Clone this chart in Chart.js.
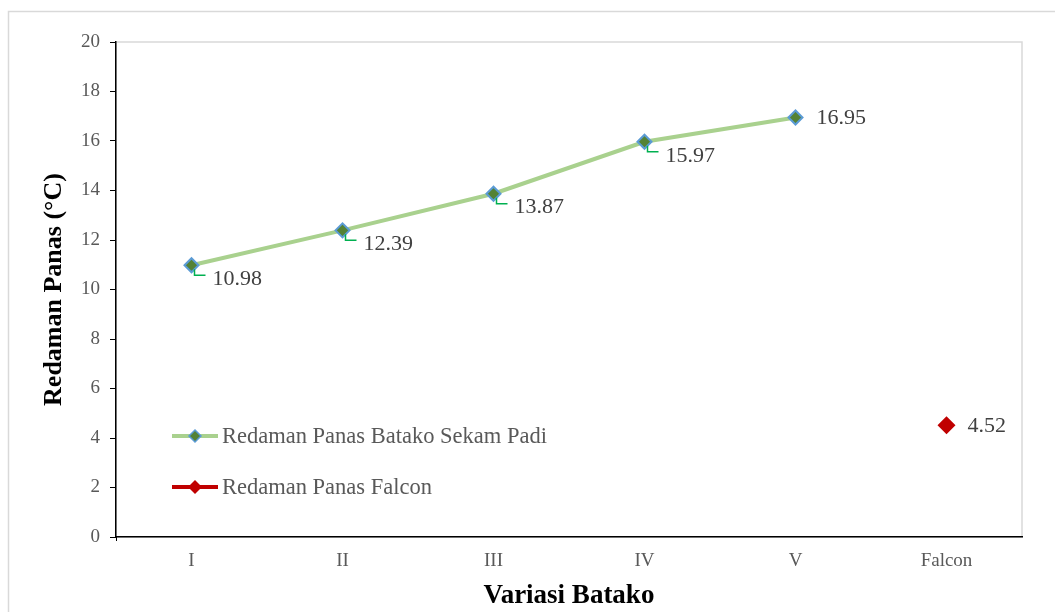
<!DOCTYPE html>
<html>
<head>
<meta charset="utf-8">
<script src="https://cdn.jsdelivr.net/npm/chart.js@4/dist/chart.umd.min.js"></script>
<style>
  html, body { margin: 0; padding: 0; background: #ffffff; }
  #wrap { width: 1055px; height: 612px; position: relative; }
</style>
</head>
<body>
<div id="wrap"><canvas id="c" width="1055" height="612"></canvas></div>
<script>
// ---- data ----
const categories = ['I', 'II', 'III', 'IV', 'V', 'Falcon'];
const batakoValues = [10.98, 12.39, 13.87, 15.97, 16.95, null];
const falconValues = [null, null, null, null, null, 4.52];
const seriesNames = ['Redaman Panas Batako Sekam Padi', 'Redaman Panas Falcon'];
const yTicks = [0, 2, 4, 6, 8, 10, 12, 14, 16, 18, 20];
const xTitle = 'Variasi Batako';
const yTitle = 'Redaman Panas (°C)';

const SERIF = '"Liberation Serif", "Times New Roman", serif';

const framePlugin = {
  id: 'frame',
  beforeDraw(chart) {
    const ctx = chart.ctx, a = chart.chartArea;
    ctx.save();
    ctx.fillStyle = '#ffffff';
    ctx.fillRect(0, 0, chart.width, chart.height);
    ctx.strokeStyle = '#d9d9d9';
    ctx.lineWidth = 1.5;
    ctx.strokeRect(8.5, 11.5, chart.width + 20, chart.height + 20);
    ctx.strokeRect(a.left, a.top, a.right - a.left, a.bottom - a.top);
    ctx.restore();
  },
  afterDraw(chart) {
    const ctx = chart.ctx, a = chart.chartArea;
    ctx.save();
    ctx.strokeStyle = '#000000';
    ctx.lineWidth = 1;
    ctx.beginPath();
    ctx.moveTo(a.left + 0.5, a.bottom);
    ctx.lineTo(a.left + 0.5, a.bottom + 4);
    ctx.stroke();
    ctx.restore();
  }
};

function diamond(ctx, x, y, r, fill, stroke, bw) {
  ctx.beginPath();
  ctx.moveTo(x, y - r);
  ctx.lineTo(x + r, y);
  ctx.lineTo(x, y + r);
  ctx.lineTo(x - r, y);
  ctx.closePath();
  ctx.fillStyle = fill;
  ctx.fill();
  if (bw) { ctx.lineWidth = bw; ctx.strokeStyle = stroke; ctx.stroke(); }
}

const labelPlugin = {
  id: 'valueLabels',
  afterDatasetsDraw(chart) {
    const ctx = chart.ctx;
    ctx.save();
    ctx.font = '22px ' + SERIF;
    ctx.fillStyle = '#404040';
    ctx.textBaseline = 'middle';
    ctx.textAlign = 'left';
    chart.data.datasets.forEach((ds, di) => {
      const meta = chart.getDatasetMeta(di);
      ds.data.forEach((v, i) => {
        if (v === null) return;
        const p = meta.data[i];
        const txt = v.toFixed(2);
        const last = (di === 0 && i === 4) || di === 1;
        if (last) {
          ctx.fillText(txt, p.x + 21, p.y + 1);
        } else {
          ctx.strokeStyle = '#00b050';
          ctx.lineWidth = 1.5;
          ctx.beginPath();
          ctx.moveTo(p.x + 3, p.y + 4);
          ctx.lineTo(p.x + 3, p.y + 10);
          ctx.lineTo(p.x + 14, p.y + 10);
          ctx.stroke();
          ctx.fillText(txt, p.x + 21, p.y + 14);
        }
      });
    });
    ctx.restore();
  }
};

const legendPlugin = {
  id: 'innerLegend',
  afterDraw(chart) {
    const ctx = chart.ctx;
    const ys = [436, 487];
    ctx.save();
    chart.data.datasets.forEach((ds, di) => {
      const y = ys[di];
      const x0 = 172, x1 = 218;
      ctx.strokeStyle = di === 0 ? ds.borderColor : ds.pointBackgroundColor;
      ctx.lineWidth = 4;
      ctx.beginPath();
      ctx.moveTo(x0, y);
      ctx.lineTo(x1, y);
      ctx.stroke();
      if (di === 0) diamond(ctx, (x0 + x1) / 2, y, 6, ds.pointBackgroundColor, ds.pointBorderColor, 1.5);
      else diamond(ctx, (x0 + x1) / 2, y, 7, ds.pointBackgroundColor, null, 0);
      ctx.font = '22.5px ' + SERIF;
      ctx.fillStyle = '#595959';
      ctx.textBaseline = 'middle';
      ctx.textAlign = 'left';
      ctx.fillText(ds.label, 222, y + 1);
    });
    ctx.restore();
  }
};

new Chart(document.getElementById('c'), {
  type: 'line',
  data: {
    labels: categories,
    datasets: [
      {
        label: seriesNames[0],
        data: batakoValues,
        borderColor: '#a9d18e',
        borderWidth: 4,
        pointStyle: 'rectRot',
        pointRadius: 7,
        pointBackgroundColor: '#548235',
        pointBorderColor: '#5b9bd5',
        pointBorderWidth: 2,
        tension: 0,
        spanGaps: false
      },
      {
        label: seriesNames[1],
        data: falconValues,
        showLine: false,
        borderColor: '#c00000',
        pointStyle: 'rectRot',
        pointRadius: 9,
        pointBackgroundColor: '#c00000',
        pointBorderColor: '#c00000',
        pointBorderWidth: 0
      }
    ]
  },
  options: {
    responsive: false,
    animation: false,
    devicePixelRatio: 1,
    layout: { padding: { left: 0, top: 42, right: 33, bottom: 0 } },
    plugins: { legend: { display: false }, tooltip: { enabled: false } },
    scales: {
      x: {
        type: 'category',
        offset: true,
        grid: { display: false, drawTicks: false },
        border: { display: true, color: '#000000', width: 1.5 },
        ticks: { color: '#595959', font: { family: SERIF, size: 19 }, padding: 13, maxRotation: 0 },
        title: { display: true, text: xTitle, color: '#000000', font: { family: SERIF, size: 27, weight: 'bold' }, padding: { top: 0, bottom: 0 } },
        afterFit(s) { s.height = 75; }
      },
      y: {
        min: 0, max: 20,
        afterBuildTicks(s) { s.ticks = yTicks.map(v => ({ value: v })); },
        grid: { drawOnChartArea: false, drawTicks: true, tickLength: 6, color: '#000000', lineWidth: 1 },
        border: { display: true, color: '#000000', width: 1.5 },
        ticks: { color: '#595959', font: { family: SERIF, size: 19 }, padding: 10 },
        title: { display: true, text: yTitle, color: '#000000', font: { family: SERIF, size: 26, weight: 'bold' }, padding: { top: 39, bottom: 0 } },
        afterFit(s) { s.width = 116; }
      }
    }
  },
  plugins: [framePlugin, labelPlugin, legendPlugin]
});
</script>
</body>
</html>
